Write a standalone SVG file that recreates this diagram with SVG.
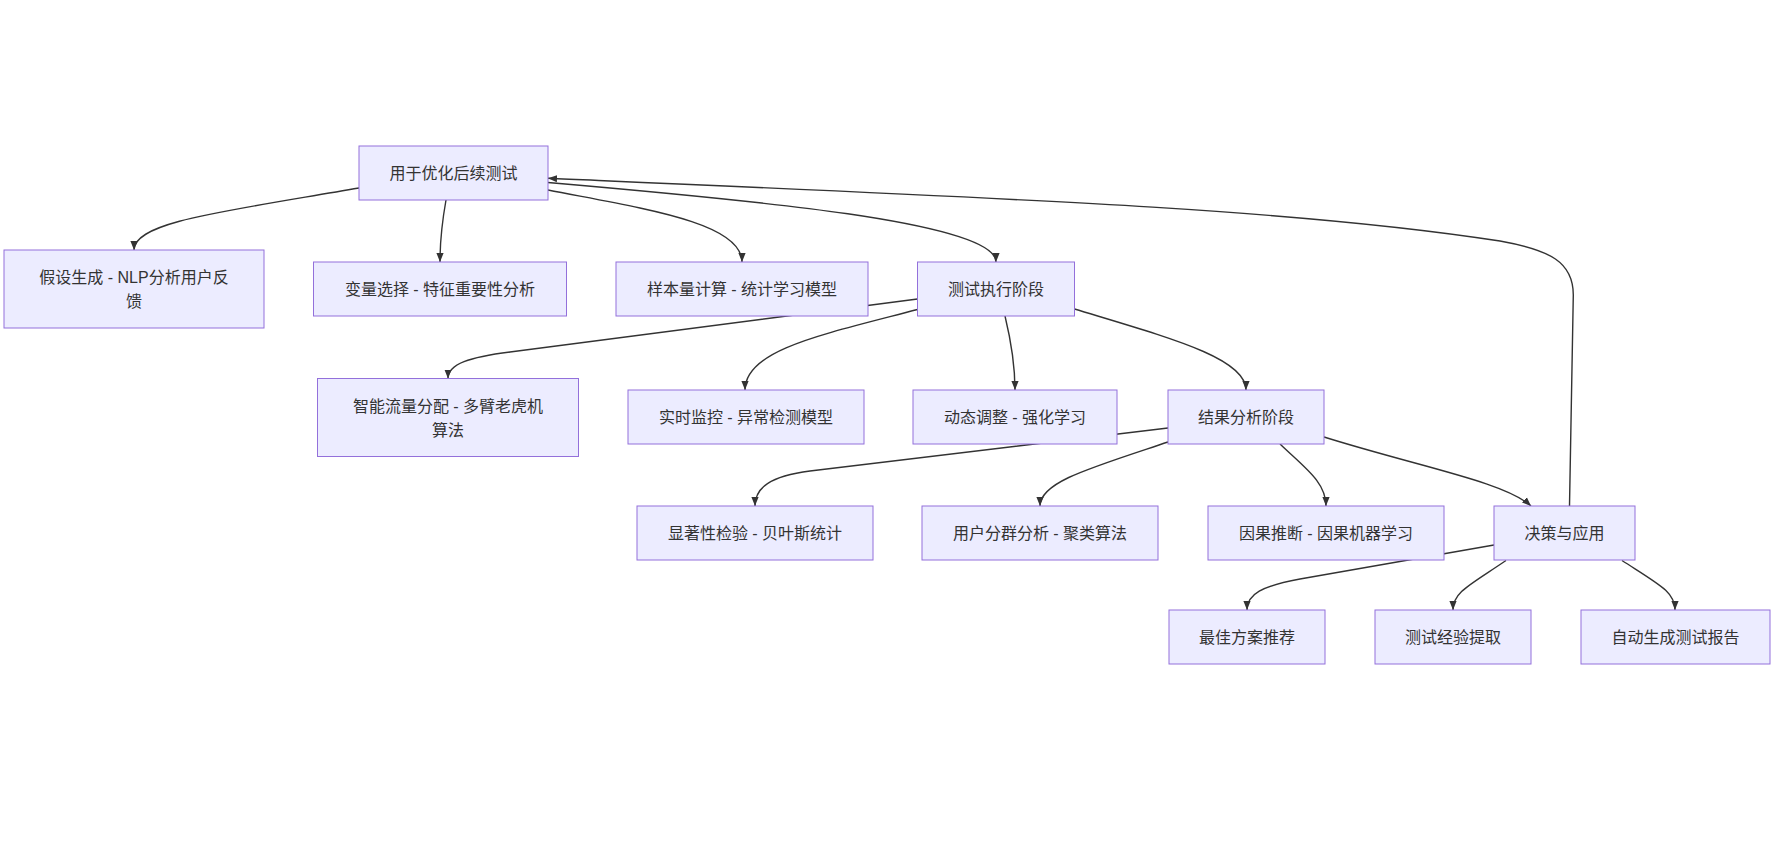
<svg xmlns="http://www.w3.org/2000/svg" width="1775" height="842" viewBox="0 0 1775 842">
<style>
.node rect{fill:#ECECFF;stroke:#9370DB;stroke-width:1px;}
.node text{font-family:"Liberation Sans","Noto Sans CJK SC",sans-serif;font-size:16px;fill:#333333;text-anchor:middle;}
.edge{fill:none;stroke:#333333;stroke-width:1.4px;marker-end:url(#arrow);}
</style>
<defs>
<marker id="arrow" viewBox="0 0 10 10" refX="10" refY="5" markerUnits="userSpaceOnUse" markerWidth="9" markerHeight="9" orient="auto">
<path d="M0,1 L10,5 L0,9 z" fill="#333333"/>
</marker>
</defs>
<rect x="0" y="0" width="1775" height="842" fill="#ffffff"/>
<g id="edges">
<path class="edge" d="M359,188 C220,212 134,222 134,250"/>
<path class="edge" d="M446,200 C441,228 440,245 440,262"/>
<path class="edge" d="M548,190 C640,208 742,222 742,262"/>
<path class="edge" d="M548,182.5 C750,200 996,222 996,262"/>
<path class="edge" d="M1569.5,506 L1573.3,295 C1573.3,262 1550,250 1500,241 C1300,210 1050,200 548,178.3"/>
<path class="edge" d="M917.5,299 L510,352 C470,357 448,364 448,378.5"/>
<path class="edge" d="M917.5,309.5 C820,335 745,350 745,390"/>
<path class="edge" d="M1005,316 C1012,345 1015,365 1015,390"/>
<path class="edge" d="M1074.5,309 C1170,338 1246,358 1246,390"/>
<path class="edge" d="M1168,428 L810,471 C770,476 755,488 755,506"/>
<path class="edge" d="M1168,442 C1090,468 1040,482 1040,506"/>
<path class="edge" d="M1280,444 C1305,468 1326,482 1326,506"/>
<path class="edge" d="M1324,437 C1420,467 1505,482 1531,506"/>
<path class="edge" d="M1494,545 L1300,579 C1262,586 1247,594 1247,610"/>
<path class="edge" d="M1506,560.5 C1470,585 1453,592 1453,610"/>
<path class="edge" d="M1622,560.5 C1660,585 1675,592 1675,610"/>
</g>
<g id="n0" class="node"><rect x="359" y="146" width="189" height="54"/><text x="453.5" y="179">用于优化后续测试</text></g>
<g id="n1" class="node"><rect x="4" y="250" width="260" height="78"/><text x="134" y="283">假设生成 - NLP分析用户反</text><text x="134" y="307">馈</text></g>
<g id="n2" class="node"><rect x="313.5" y="262" width="253" height="54"/><text x="440" y="295">变量选择 - 特征重要性分析</text></g>
<g id="n3" class="node"><rect x="616" y="262" width="252" height="54"/><text x="742" y="295">样本量计算 - 统计学习模型</text></g>
<g id="n4" class="node"><rect x="917.5" y="262" width="157" height="54"/><text x="996" y="295">测试执行阶段</text></g>
<g id="n5" class="node"><rect x="317.5" y="378.5" width="261" height="78"/><text x="448" y="411.5">智能流量分配 - 多臂老虎机</text><text x="448" y="435.5">算法</text></g>
<g id="n6" class="node"><rect x="628" y="390" width="236" height="54"/><text x="746" y="423">实时监控 - 异常检测模型</text></g>
<g id="n7" class="node"><rect x="913" y="390" width="204" height="54"/><text x="1015" y="423">动态调整 - 强化学习</text></g>
<g id="n8" class="node"><rect x="1168" y="390" width="156" height="54"/><text x="1246" y="423">结果分析阶段</text></g>
<g id="n9" class="node"><rect x="637" y="506" width="236" height="54"/><text x="755" y="539">显著性检验 - 贝叶斯统计</text></g>
<g id="n10" class="node"><rect x="922" y="506" width="236" height="54"/><text x="1040" y="539">用户分群分析 - 聚类算法</text></g>
<g id="n11" class="node"><rect x="1208" y="506" width="236" height="54"/><text x="1326" y="539">因果推断 - 因果机器学习</text></g>
<g id="n12" class="node"><rect x="1494" y="506" width="141" height="54"/><text x="1564.5" y="539">决策与应用</text></g>
<g id="n13" class="node"><rect x="1169" y="610" width="156" height="54"/><text x="1247" y="643">最佳方案推荐</text></g>
<g id="n14" class="node"><rect x="1375" y="610" width="156" height="54"/><text x="1453" y="643">测试经验提取</text></g>
<g id="n15" class="node"><rect x="1581" y="610" width="189" height="54"/><text x="1675.5" y="643">自动生成测试报告</text></g>
</svg>
